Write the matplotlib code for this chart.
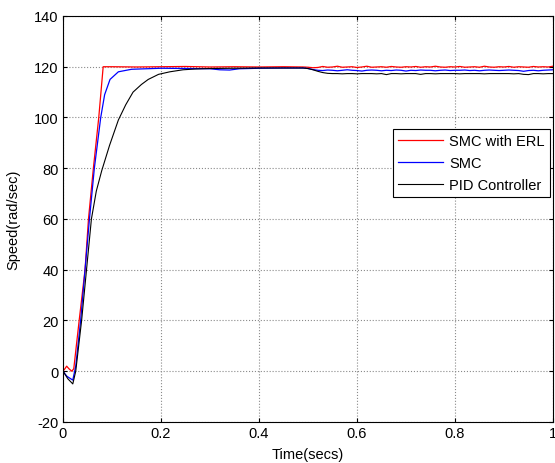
import numpy as np
import matplotlib.pyplot as plt

plt.rcParams['font.family'] = ['Liberation Sans', 'DejaVu Sans']
plt.rcParams['axes.unicode_minus'] = False

# transient part (time in secs, speed in rad/sec)
t_erl = [0, 0.004, 0.0075, 0.012, 0.018, 0.022, 0.033, 0.045, 0.052, 0.062, 0.073, 0.082,
         0.1, 0.15, 0.2, 0.25, 0.3, 0.35, 0.4, 0.45, 0.49]
speed_erl = [0, 1, 2, 1, 0, 1, 20, 40, 60, 80, 100, 120,
             120.0, 119.9, 120.0, 120.1, 119.9, 120.0, 119.9, 120.0, 119.9]

t_smc = [0, 0.008, 0.016, 0.02, 0.026, 0.036, 0.045, 0.054, 0.064, 0.077, 0.085, 0.096,
         0.113, 0.14, 0.17, 0.2, 0.25, 0.3, 0.32, 0.34, 0.36, 0.4, 0.45, 0.49]
speed_smc = [0, -2, -3, -3.5, 2, 20, 40, 60, 80, 100, 109, 115,
             118, 119, 119.2, 119.4, 119.3, 119.2, 118.8, 118.7, 119.2, 119.4, 119.5, 119.5]

t_pid = [0, 0.01, 0.02, 0.026, 0.038, 0.048, 0.058, 0.068, 0.079, 0.095, 0.113, 0.128,
         0.143, 0.16, 0.174, 0.195, 0.218, 0.245, 0.27, 0.3, 0.35, 0.4, 0.45, 0.49]
speed_pid = [0, -3, -5, 0, 20, 40, 60, 71, 79, 89, 99, 105,
             110, 113, 115, 117, 118, 118.8, 119.1, 119.3, 119.4, 119.5, 119.5, 119.5]

# steady state after the load change
t_ss = [0.50, 0.51, 0.52, 0.53, 0.54, 0.55, 0.56, 0.57, 0.58, 0.59,
        0.60, 0.61, 0.62, 0.63, 0.64, 0.65, 0.66, 0.67, 0.68, 0.69,
        0.70, 0.71, 0.72, 0.73, 0.74, 0.75, 0.76, 0.77, 0.78, 0.79,
        0.80, 0.81, 0.82, 0.83, 0.84, 0.85, 0.86, 0.87, 0.88, 0.89,
        0.90, 0.91, 0.92, 0.93, 0.94, 0.95, 0.96, 0.97, 0.98, 0.99, 1.00]
erl_ss = [119.8, 119.6, 119.7, 120.1, 119.8, 119.9, 120.2, 119.8, 119.9, 120.0,
          119.7, 119.9, 120.2, 119.8, 119.9, 120.0, 119.8, 120.1, 119.9, 119.8,
          120.0, 119.9, 120.1, 119.8, 120.0, 119.9, 120.2, 119.9, 119.8, 120.0,
          119.9, 120.1, 119.8, 119.9, 120.0, 119.8, 120.2, 119.9, 119.8, 120.0,
          119.9, 120.1, 119.8, 120.0, 119.9, 119.8, 120.1, 119.9, 120.0, 119.9, 120.2]
smc_ss = [119.3, 118.9, 118.6, 118.5, 118.7, 118.6, 118.4, 118.6, 118.8, 118.6,
          118.5, 118.3, 118.6, 118.7, 118.6, 118.4, 118.6, 118.5, 118.7, 118.6,
          118.3, 118.6, 118.5, 118.7, 118.6, 118.6, 118.4, 118.6, 118.7, 118.5,
          118.6, 118.6, 118.7, 118.5, 118.6, 118.4, 118.6, 118.7, 118.6, 118.5,
          118.6, 118.7, 118.6, 118.5, 118.2, 118.5, 118.6, 118.4, 118.6, 118.7, 118.8]
pid_ss = [119.3, 118.8, 118.2, 117.7, 117.4, 117.3, 117.3, 117.2, 117.3, 117.3,
          117.2, 117.3, 117.3, 117.3, 117.2, 117.3, 116.9, 117.3, 117.3, 117.2,
          117.3, 117.3, 117.3, 117.0, 117.3, 117.3, 117.2, 117.3, 117.3, 117.3,
          117.3, 117.2, 117.3, 117.3, 117.3, 117.3, 117.2, 117.3, 117.3, 117.3,
          117.3, 117.3, 117.2, 117.3, 117.0, 116.9, 117.3, 117.3, 117.2, 117.3, 117.3]

fig = plt.figure(figsize=(5.55, 4.64), dpi=100)
ax = fig.add_axes([0.1135, 0.0884, 0.8829, 0.875])

ax.plot(t_erl + t_ss, speed_erl + erl_ss, color='r', linewidth=0.9, label='SMC with ERL')
ax.plot(t_smc + t_ss, speed_smc + smc_ss, color='b', linewidth=0.9, label='SMC')
ax.plot(t_pid + t_ss, speed_pid + pid_ss, color='k', linewidth=0.8, label='PID Controller')

ax.set_xlim(0, 1)
ax.set_ylim(-20, 140)
ax.set_xticks([0, 0.2, 0.4, 0.6, 0.8, 1])
ax.set_xticklabels(['0', '0.2', '0.4', '0.6', '0.8', '1'])
ax.set_yticks(range(-20, 141, 20))
ax.grid(True, linestyle=':', color='#8a8a8a', linewidth=0.8)
ax.tick_params(direction='in', top=True, right=True, labelsize=10.5, length=3, pad=3)
for s in ax.spines.values():
    s.set_linewidth(0.8)

ax.set_xlabel('Time(secs)', fontsize=10.5, labelpad=5)
ax.set_ylabel('Speed(rad/sec)', fontsize=10.5, labelpad=10)

leg = ax.legend(loc='upper right', bbox_to_anchor=(0.994, 0.722), fontsize=10.5,
                fancybox=False, framealpha=1, edgecolor='k', borderpad=0.35,
                handlelength=3.1, handletextpad=0.45, labelspacing=0.55, borderaxespad=0)
leg.get_frame().set_linewidth(0.8)

plt.savefig('out.png', dpi=100)
